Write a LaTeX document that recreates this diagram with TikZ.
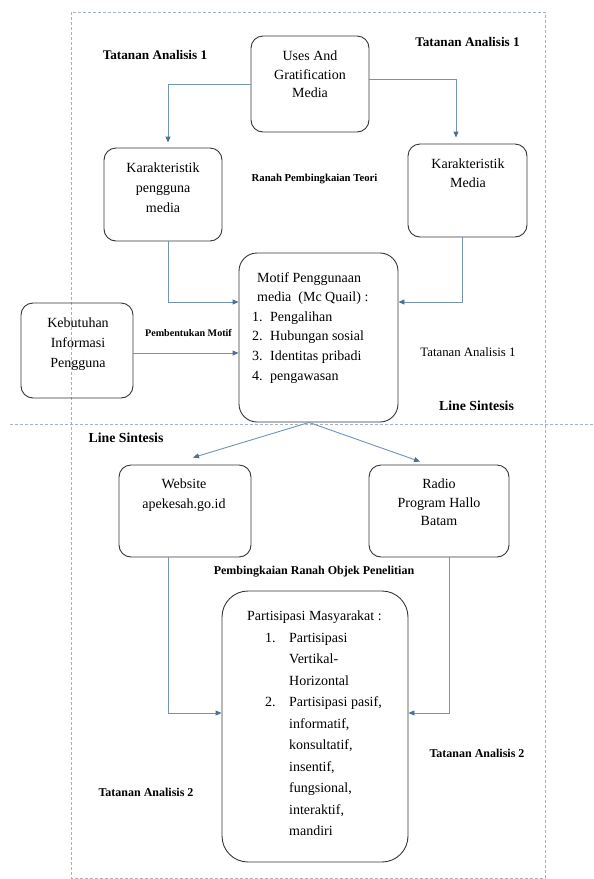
\documentclass[tikz,border=0pt]{standalone}
\usepackage{fontspec}
\setmainfont{Liberation Serif}
\usetikzlibrary{arrows.meta}
\definecolor{conn}{HTML}{7193B5}
\definecolor{tipc}{HTML}{4C7097}
\definecolor{framec}{HTML}{A3B4C6}
\definecolor{boxc}{HTML}{353535}
\begin{document}
\begin{tikzpicture}[x=1pt,y=-1pt,
  box/.style={draw=boxc, line width=0.9pt, rounded corners=12pt},
  txt/.style={inner sep=0pt, anchor=north, align=center, font=\fontsize{14}{20}\selectfont},
  lab/.style={inner sep=0pt},
  arr/.style={draw=conn, line width=0.9pt, -{Triangle[length=6pt,width=5pt,fill=tipc,color=tipc]}},
  frm/.style={draw=framec, line width=0.9pt, dash pattern=on 3pt off 2pt}
]
\useasboundingbox (0,0) rectangle (594,879);

% frame and synthesis line
\draw[frm] (71,12) rectangle (545,878);
\coordinate (sl) at (10,424);
\coordinate (sr) at (594,424);
\draw[frm] (sl) -- (sr);

% boxes
\node[box, minimum width=118pt, minimum height=96pt] (uses) at (310,84) {};
\node[box, minimum width=118pt, minimum height=93pt] (kp) at (163,194.5) {};
\node[box, minimum width=119pt, minimum height=93pt] (km) at (467.5,190.5) {};
\node[box, rounded corners=18pt, minimum width=159pt, minimum height=169pt] (motif) at (318.5,337.5) {};
\node[box, minimum width=112pt, minimum height=95pt] (keb) at (77,350.5) {};
\node[box, minimum width=132pt, minimum height=92pt] (web) at (185,511) {};
\node[box, minimum width=140pt, minimum height=92pt] (radio) at (439,511) {};
\node[box, rounded corners=26pt, minimum width=186pt, minimum height=271pt] (part) at (315,726.5) {};

% box texts
\node[txt, font=\fontsize{14}{18.5}\selectfont] (usest) at (310,51) {Uses And\\Gratification\\Media};
\node[txt] (kpt) at (163,163) {Karakteristik\\pengguna\\media};
\node[txt, font=\fontsize{14}{19}\selectfont] (kmt) at (468,159) {Karakteristik\\Media};
\node[txt] (kebt) at (78,318) {Kebutuhan\\Informasi\\Pengguna};
\node[txt] (webt) at (184,479) {Website\\apekesah.go.id};
\node[txt, font=\fontsize{14}{18.5}\selectfont] (radiot) at (439,479) {Radio\\Program Hallo\\Batam};
\node[txt, anchor=north west, align=left, font=\fontsize{14}{19.6}\selectfont] (motift) at (252,272)
  {\hspace*{5pt}Motif Penggunaan\\
   \hspace*{5pt}media\ \ (Mc Quail) :\\
   \makebox[18pt][l]{1.}Pengalihan\\
   \makebox[18pt][l]{2.}Hubungan sosial\\
   \makebox[18pt][l]{3.}Identitas pribadi\\
   \makebox[18pt][l]{4.}pengawasan};
\node[txt, anchor=north west, align=left, font=\fontsize{14}{21.5}\selectfont] (partt) at (247,611)
  {Partisipasi Masyarakat :\\
   \hspace*{18pt}\makebox[24pt][l]{1.}Partisipasi\\
   \hspace*{42pt}Vertikal-\\
   \hspace*{42pt}Horizontal\\
   \hspace*{18pt}\makebox[24pt][l]{2.}Partisipasi pasif,\\
   \hspace*{42pt}informatif,\\
   \hspace*{42pt}konsultatif,\\
   \hspace*{42pt}insentif,\\
   \hspace*{42pt}fungsional,\\
   \hspace*{42pt}interaktif,\\
   \hspace*{42pt}mandiri};

% labels
\node[lab, font=\fontsize{13.2}{15}\selectfont\bfseries] (ta1a) at (155,55) {Tatanan Analisis 1};
\node[lab, font=\fontsize{13.2}{15}\selectfont\bfseries] (ta1b) at (467.5,42) {Tatanan Analisis 1};
\node[lab, font=\fontsize{10.7}{12}\selectfont\bfseries] (ranah) at (314.5,179) {Ranah Pembingkaian Teori};
\node[lab, font=\fontsize{10.1}{12}\selectfont\bfseries] (pemb) at (188.5,333) {Pembentukan Motif};
\node[lab, font=\fontsize{12.8}{15}\selectfont] (ta1c) at (468,352) {Tatanan Analisis 1};
\node[lab, font=\fontsize{13.8}{15}\selectfont\bfseries] (lsr) at (476.5,406) {Line Sintesis};
\node[lab, font=\fontsize{13.8}{15}\selectfont\bfseries] (lsl) at (126,438) {Line Sintesis};
\node[lab, font=\fontsize{12}{14}\selectfont\bfseries] (objek) at (314,572) {Pembingkaian Ranah Objek Penelitian};
\node[lab, font=\fontsize{12}{14}\selectfont\bfseries] (ta2r) at (477,753) {Tatanan Analisis 2};
\node[lab, font=\fontsize{12}{14}\selectfont\bfseries] (ta2l) at (146,792) {Tatanan Analisis 2};

% connectors
\coordinate (kebout) at ([yshift=-2.5pt]keb.east);
\draw[arr, shorten >=5pt] (uses.west) -| ([xshift=5pt]kp.north);
\draw[arr, shorten >=6pt] ([yshift=5pt]uses.east) -| ([xshift=-11.5pt]km.north);
\draw[arr] ([xshift=5pt]kp.south) |- ([yshift=35.5pt]motif.west);
\draw[arr] ([xshift=-5.5pt]km.south) |- ([yshift=35.5pt]motif.east);
\draw[arr] (kebout) -- (kebout -| motif.west);
\draw[arr] ([xshift=-9.5pt]motif.south) -- ([xshift=8pt,yshift=7pt]web.north);
\draw[arr] ([xshift=-9.5pt]motif.south) -- ([xshift=-19pt,yshift=3pt]radio.north);
\draw[arr] ([xshift=-17pt]web.south) |- ([yshift=13.5pt]part.west);
\draw[arr] ([xshift=10pt]radio.south) |- ([yshift=13.5pt]part.east);
\end{tikzpicture}
\end{document}
